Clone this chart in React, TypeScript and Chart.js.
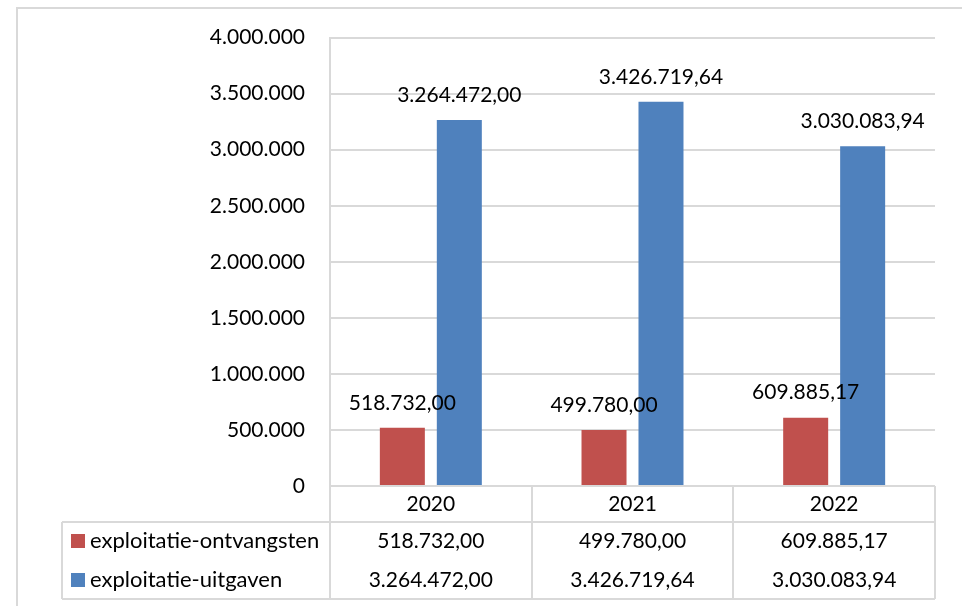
import React, { useEffect, useRef } from 'react';
import { Chart, registerables } from 'chart.js';

Chart.register(...registerables);

const categories = ['2020', '2021', '2022'];
const seriesNames = ['exploitatie-ontvangsten', 'exploitatie-uitgaven'];
const ontvangsten = [518732.0, 499780.0, 609885.17];
const uitgaven = [3264472.0, 3426719.64, 3030083.94];
const seriesColors = ['#C0504D', '#4F81BD'];
const yMin = 0;
const yMax = 4000000;
const yStep = 500000;

const FONT = 'Lato, "Open Sans", sans-serif';
const FS = 21;
const LEGEND_FS = 22;
const LINE = '#d9d9d9';

function fmt(v: number, decimals: number): string {
  const fixed = Number(v).toFixed(decimals);
  const parts = fixed.split('.');
  const intPart = parts[0].replace(/\B(?=(\d{3})+(?!\d))/g, '.');
  return parts[1] ? intPart + ',' + parts[1] : intPart;
}

const framePlugin = {
  id: 'frame',
  beforeDraw(chart: any) {
    const ctx = chart.ctx;
    ctx.save();
    ctx.fillStyle = '#ffffff';
    ctx.fillRect(0, 0, chart.width, chart.height);
    ctx.strokeStyle = LINE;
    ctx.lineWidth = 2;
    ctx.strokeRect(17, 8, chart.width + 50, chart.height + 50);
    ctx.restore();
  },
};

const labelPlugin = {
  id: 'barLabels',
  afterDatasetsDraw(chart: any) {
    const ctx = chart.ctx;
    ctx.save();
    ctx.font = `${FS}px ${FONT}`;
    ctx.fillStyle = '#000';
    ctx.textAlign = 'center';
    ctx.textBaseline = 'middle';
    chart.data.datasets.forEach((ds: any, di: number) => {
      const meta = chart.getDatasetMeta(di);
      meta.data.forEach((bar: any, i: number) => {
        ctx.fillText(fmt(ds.data[i], 2), bar.x, bar.y - 25);
      });
    });
    ctx.restore();
  },
};

const tablePlugin = {
  id: 'dataTable',
  afterDraw(chart: any) {
    const ctx = chart.ctx;
    const area = chart.chartArea;
    const xs = chart.scales.x;
    const n = categories.length;
    const cw = (area.right - area.left) / n;
    const top = area.bottom;
    const headBottom = top + 36;
    const tableBottom = 599;
    const rowH = (tableBottom - headBottom) / 2;
    const legendLeft = 62;
    ctx.save();
    ctx.strokeStyle = LINE;
    ctx.lineWidth = 2;
    ctx.beginPath();
    ctx.moveTo(legendLeft, headBottom);
    ctx.lineTo(area.right, headBottom);
    ctx.moveTo(legendLeft, tableBottom);
    ctx.lineTo(area.right, tableBottom);
    ctx.moveTo(legendLeft, headBottom);
    ctx.lineTo(legendLeft, tableBottom);
    for (let i = 0; i <= n; i++) {
      const x = Math.round(area.left + i * cw);
      ctx.moveTo(x, top);
      ctx.lineTo(x, tableBottom);
    }
    ctx.stroke();

    ctx.font = `${FS}px ${FONT}`;
    ctx.fillStyle = '#000';
    ctx.textBaseline = 'middle';
    ctx.textAlign = 'center';
    categories.forEach((c, i) => {
      const cx = xs.getPixelForValue(i);
      ctx.fillText(c, cx, (top + headBottom) / 2);
    });
    const series = [ontvangsten, uitgaven];
    series.forEach((vals, si) => {
      const cy = headBottom + rowH * (si + 0.5);
      ctx.fillStyle = seriesColors[si];
      ctx.fillRect(71, Math.round(cy - 7), 14, 14);
      ctx.fillStyle = '#000';
      ctx.textAlign = 'left';
      ctx.font = `${LEGEND_FS}px ${FONT}`;
      ctx.fillText(seriesNames[si], 90, cy);
      ctx.font = `${FS}px ${FONT}`;
      ctx.textAlign = 'center';
      vals.forEach((v, i) => {
        ctx.fillText(fmt(v, 2), xs.getPixelForValue(i), cy);
      });
    });
    ctx.restore();
  },
};

export default function App() {
  const ref = useRef<HTMLCanvasElement | null>(null);
  useEffect(() => {
    if (!ref.current) return;
    const chart = new Chart(ref.current, {
      type: 'bar',
      data: {
        labels: categories,
        datasets: [
          {
            label: seriesNames[0],
            data: ontvangsten,
            backgroundColor: seriesColors[0],
            categoryPercentage: 0.565,
            barPercentage: 0.79,
          },
          {
            label: seriesNames[1],
            data: uitgaven,
            backgroundColor: seriesColors[1],
            categoryPercentage: 0.565,
            barPercentage: 0.79,
          },
        ],
      },
      options: {
        animation: false,
        responsive: false,
        devicePixelRatio: 1,
        layout: { padding: { top: 37, right: 27, bottom: 120, left: 0 } },
        plugins: {
          legend: { display: false },
          tooltip: { enabled: false },
          title: { display: false },
        },
        scales: {
          x: { display: false },
          y: {
            min: yMin,
            max: yMax,
            ticks: {
              stepSize: yStep,
              callback: (v: any) => fmt(Number(v), 0),
              font: { family: FONT, size: FS },
              color: '#000',
              padding: 25,
            },
            grid: { color: LINE, lineWidth: 2, drawTicks: false },
            border: { display: true, color: LINE, width: 2 },
            afterFit: (s: any) => {
              s.width = 330;
            },
          },
        },
      },
      plugins: [framePlugin, labelPlugin, tablePlugin],
    });
    return () => chart.destroy();
  }, []);
  return (
    <div style={{ position: 'fixed', left: 0, top: 0, width: 962, height: 606 }}>
      <canvas ref={ref} width={962} height={606} style={{ display: 'block' }} />
    </div>
  );
}
